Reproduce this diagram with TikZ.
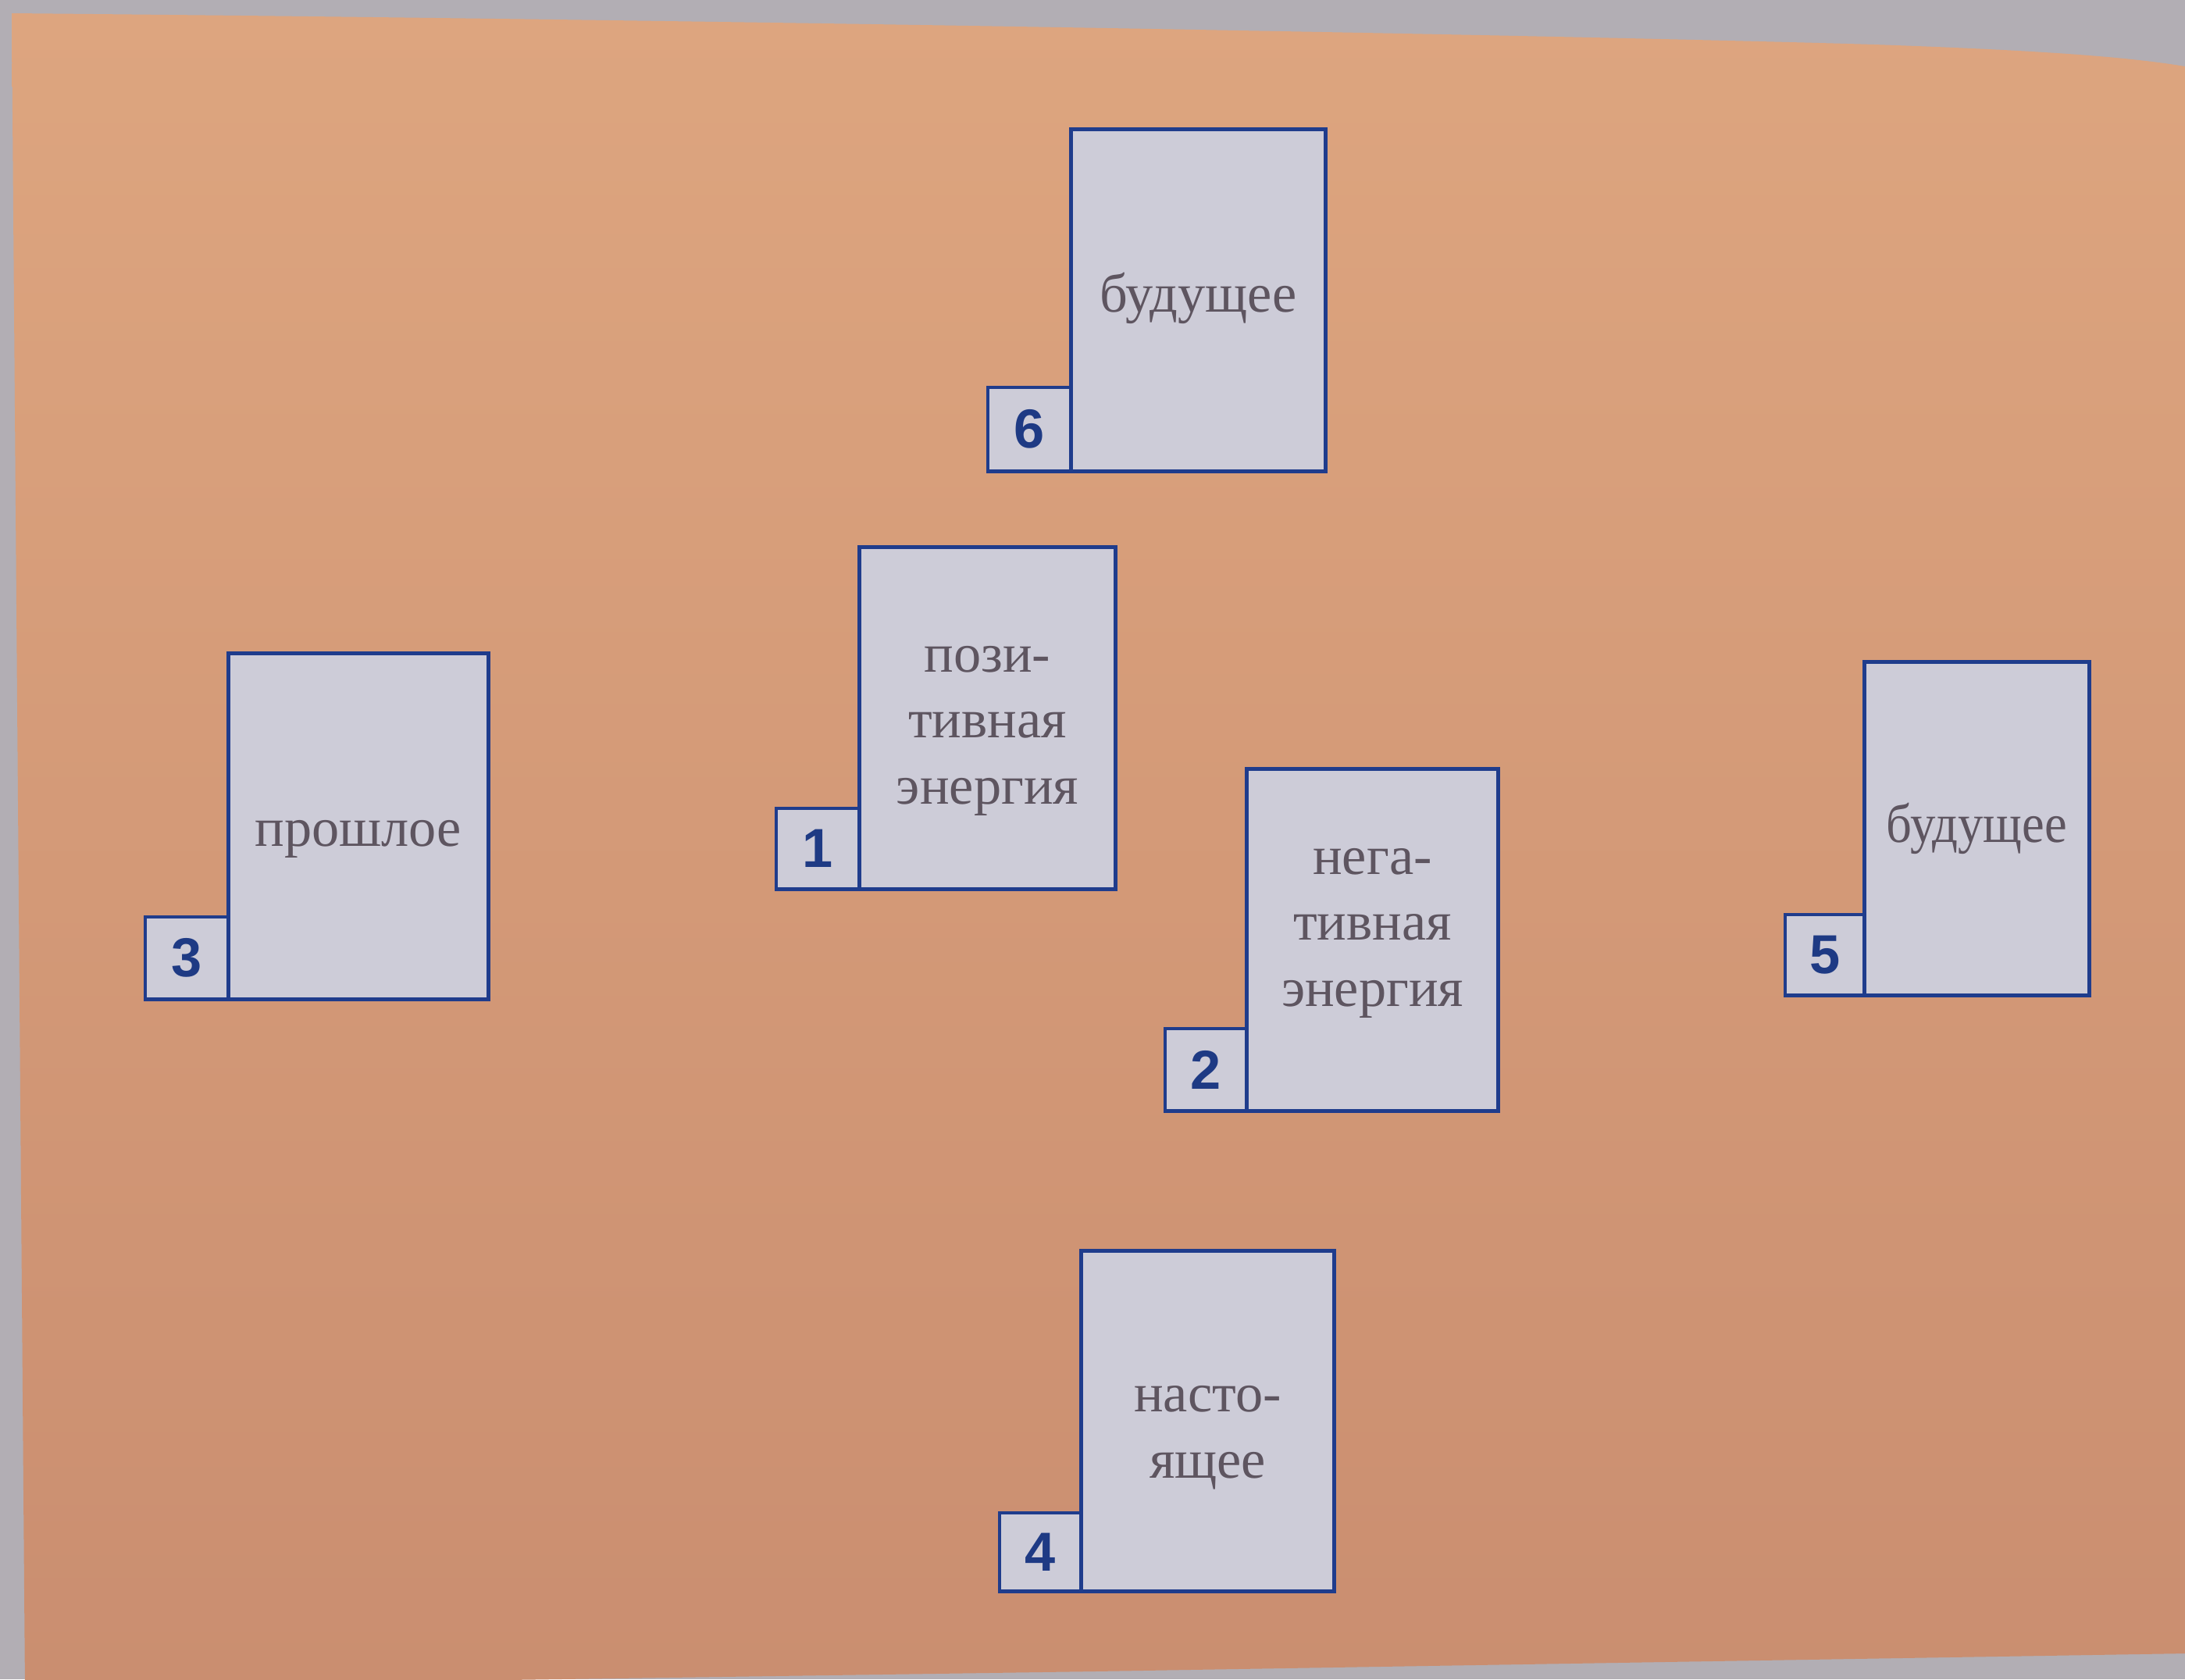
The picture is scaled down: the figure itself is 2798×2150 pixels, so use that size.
\documentclass[tikz,border=0pt]{standalone}
\usepackage{fontspec}
\setmainfont{Liberation Serif}
\newfontfamily\numfont{Liberation Sans}
\definecolor{pagegrey}{HTML}{B2AEB4}
\definecolor{salmontop}{HTML}{DDA57F}
\definecolor{salmonbot}{HTML}{CA8E70}
\definecolor{cardfill}{HTML}{CDCCD8}
\definecolor{cardline}{HTML}{1F3C8C}
\definecolor{cardtext}{HTML}{5E5560}
\definecolor{numtext}{HTML}{1E3A84}
\tikzset{
  cardbox/.style={draw=cardline, fill=cardfill, line width=1.4pt, inner sep=0pt, outer sep=0pt},
  numbox/.style={draw=cardline, fill=cardfill, line width=1.4pt, inner sep=0pt, outer sep=0pt,
    text=numtext, font=\numfont\bfseries\fontsize{20}{20}\selectfont},
  cardtxt/.style={align=center, text=cardtext, inner sep=0pt, font=\fontsize{20}{24}\selectfont}
}
\begin{document}
\begin{tikzpicture}[x=0.01cm, y=-0.01cm]
\useasboundingbox (0,0) rectangle (2798,2150);
% photographed page background
\fill[pagegrey] (0,0) rectangle (2798,2150);
\shade[top color=salmontop, bottom color=salmonbot]
  (15,17) .. controls (900,25) and (2000,45) .. (2400,57)
  .. controls (2600,64) and (2720,72) .. (2798,85)
  -- (2798,2117) -- (1400,2140) -- (32,2160) -- cycle;

% card 6
\node[numbox, minimum width=1.07cm, minimum height=1.07cm] (n6) at (1318.5,549.5) {6};
\node[cardbox, minimum width=3.25cm, minimum height=4.37cm] (c6) at (1534.5,384.5) {};
\node[cardtxt] (t6) at ([yshift=0.03cm]c6.center) {будущее};
% card 1
\node[numbox, minimum width=1.07cm, minimum height=1.03cm] (n1) at (1047.5,1086.5) {1};
\node[cardbox, minimum width=3.27cm, minimum height=4.37cm] (c1) at (1264.5,919.5) {};
\node[cardtxt] (t1) at ([yshift=-0.16cm]c1.center) {пози-\\тивная\\энергия};
% card 3
\node[numbox, minimum width=1.07cm, minimum height=1.05cm] (n3) at (239.5,1226.5) {3};
\node[cardbox, minimum width=3.32cm, minimum height=4.42cm] (c3) at (459,1058) {};
\node[cardtxt] (t3) at ([yshift=-0.16cm]c3.center) {прошлое};
% card 2
\node[numbox, minimum width=1.05cm, minimum height=1.05cm] (n2) at (1544.5,1369.5) {2};
\node[cardbox, minimum width=3.21cm, minimum height=4.37cm] (c2) at (1757.5,1203.5) {};
\node[cardtxt] (t2) at ([yshift=0.09cm]c2.center) {нега-\\тивная\\энергия};
% card 5
\node[numbox, minimum width=1.02cm, minimum height=1.03cm] (n5) at (2337,1222.5) {5};
\node[cardbox, minimum width=2.87cm, minimum height=4.26cm] (c5) at (2531.5,1061) {};
\node[cardtxt, xscale=0.92] (t5) at (c5.center) {будущее};
% card 4
\node[numbox, minimum width=1.05cm, minimum height=1.00cm] (n4) at (1332.5,1987) {4};
\node[cardbox, minimum width=3.23cm, minimum height=4.35cm] (c4) at (1546.5,1819.5) {};
\node[cardtxt] (t4) at ([yshift=-0.21cm]c4.center) {насто-\\ящее};
\end{tikzpicture}
\end{document}
